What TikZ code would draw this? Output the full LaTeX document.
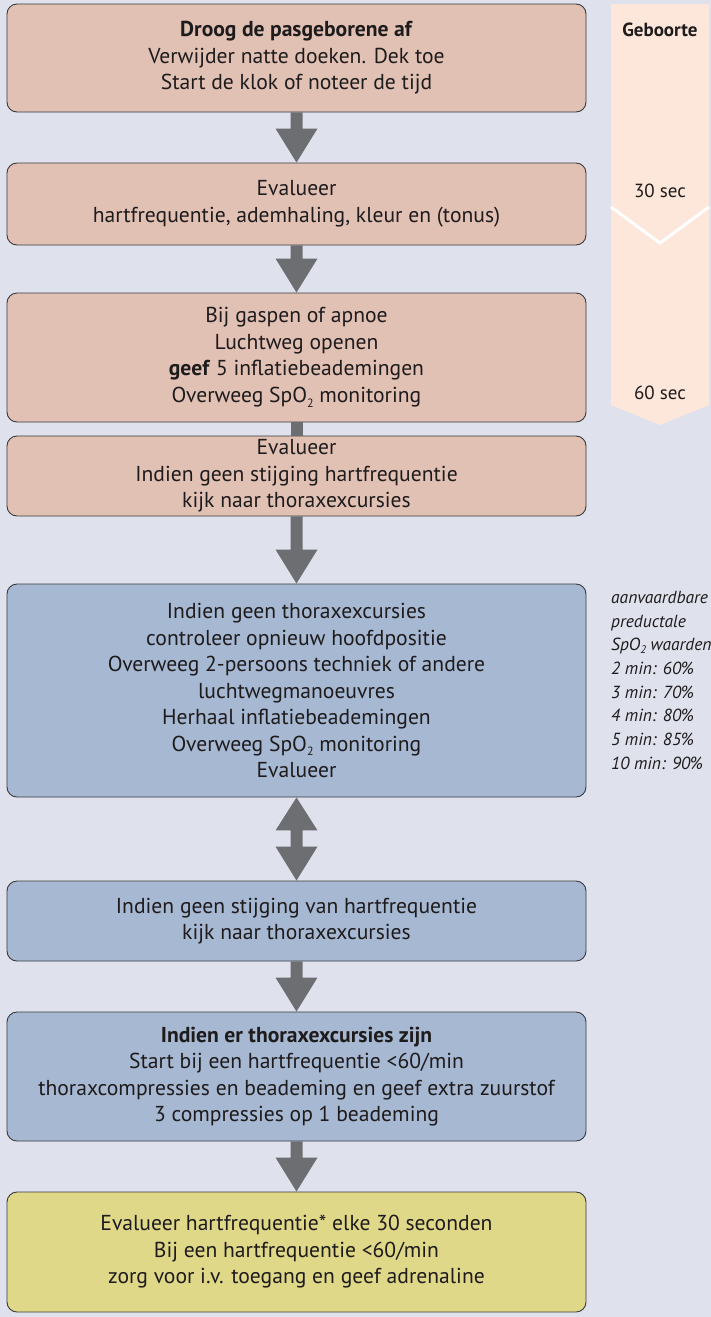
\documentclass[tikz,border=0pt]{standalone}
\usepackage{fontspec}
\setmainfont{PT Sans}
\usetikzlibrary{calc}
\definecolor{bg}{HTML}{DFE1ED}
\definecolor{pinkbox}{HTML}{E2C1B5}
\definecolor{bluebox}{HTML}{A7B8D2}
\definecolor{yellowbox}{HTML}{E0D889}
\definecolor{peach}{HTML}{FDE7DA}
\definecolor{arrowgray}{HTML}{6D6E71}
\definecolor{edgegray}{HTML}{3A3A3C}
\definecolor{ink}{HTML}{1E1B1C}
\newcommand\subtwo{\raisebox{-0.45ex}{\fontsize{12}{12}\selectfont 2}}
\newcommand\flowarrow[2]{%
  \fill[arrowgray] let \p1=(#1.south), \p2=(#2.north) in
    (\x1-6pt,\y1) -- (\x1+6pt,\y1) -- (\x1+6pt,\y2+34pt) -- (\x1+21pt,\y2+34pt)
    -- (\x2,\y2) -- (\x1-21pt,\y2+34pt) -- (\x1-6pt,\y2+34pt) -- cycle;}
\begin{document}
\begin{tikzpicture}[x=1pt,y=-1pt,
  box/.style={draw=edgegray, line width=0.9pt, rounded corners=10pt,
    minimum width=579pt, inner sep=0pt, align=center, text=ink,
    font=\fontsize{21.6}{26.5}\selectfont},
  pinkstep/.style={box, fill=pinkbox},
  bluestep/.style={box, fill=bluebox},
  yellowstep/.style={box, fill=yellowbox},
  timetext/.style={text=ink, font=\fontsize{19}{22}\selectfont, inner sep=0pt},
  sidetext/.style={text=ink, font=\itshape\fontsize{17.5}{23.7}\selectfont, align=left, inner sep=0pt, anchor=north west}
]
\useasboundingbox (0,0) rectangle (711,1317);
\fill[bg] (0,0) rectangle (711,1317);

% timeline
\fill[peach] (611,4) -- (709,4) -- (709,405) -- (660,425) -- (611,405) -- cycle;
\draw[white, line width=3pt] (611,207) -- (660,243) -- (709,207);
\node[timetext] (geb) at (660,30) {\textbf{Geboorte}};
\node[timetext] (s30) at (660,191) {30 sec};
\node[timetext] (s60) at (660,393) {60 sec};

% boxes
\node[pinkstep, minimum height=108pt] (b1) at (296.5,58)
  {\textbf{Droog de pasgeborene af}\\Verwijder natte doeken. Dek toe\\Start de klok of noteer de tijd};
\node[pinkstep, minimum height=82pt] (b2) at (296.5,204)
  {Evalueer\\hartfrequentie, ademhaling, kleur en (tonus)};
\node[pinkstep, minimum height=129pt] (b3) at (296.5,357.5)
  {Bij gaspen of apnoe\\Luchtweg openen\\\textbf{geef} 5 inflatiebeademingen\\Overweeg SpO\subtwo\ monitoring};
\node[pinkstep, minimum height=80pt] (b4) at (296.5,476)
  {Evalueer\\Indien geen stijging hartfrequentie\\kijk naar thoraxexcursies};
\node[bluestep, minimum height=213pt] (b5) at (296.5,690.5)
  {Indien geen thoraxexcursies\\controleer opnieuw hoofdpositie\\Overweeg 2-persoons techniek of andere\\luchtwegmanoeuvres\\Herhaal inflatiebeademingen\\Overweeg SpO\subtwo\ monitoring\\Evalueer};
\node[bluestep, minimum height=80pt] (b6) at (296.5,921)
  {Indien geen stijging van hartfrequentie\\kijk naar thoraxexcursies};
\node[bluestep, minimum height=129pt] (b7) at (296.5,1076.5)
  {\textbf{Indien er thoraxexcursies zijn}\\Start bij een hartfrequentie <60/min\\thoraxcompressies en beademing en geef extra zuurstof\\3 compressies op 1 beademing};
\node[yellowstep, minimum height=120pt] (b8) at (296.5,1252)
  {Evalueer hartfrequentie* elke 30 seconden\\Bij een hartfrequentie <60/min\\zorg voor i.v. toegang en geef adrenaline};

% side note
\node[sidetext] (note) at (611,591)
  {aanvaardbare\\preductale\\SpO{\fontsize{11}{11}\selectfont\raisebox{-0.45ex}{2}} waarden\\2 min: 60\%\\3 min: 70\%\\4 min: 80\%\\5 min: 85\%\\10 min: 90\%};

% arrows
\flowarrow{b1}{b2}
\flowarrow{b2}{b3}
\fill[arrowgray] let \p1=(b3.south), \p2=(b4.north) in
  (\x1-6pt,\y1) rectangle (\x2+6pt,\y2);
\flowarrow{b4}{b5}
\fill[arrowgray] let \p1=(b5.south), \p2=(b6.north) in
  (\x1,\y1) -- (\x1+21pt,\y1-33pt) -- (\x1+6pt,\y1-33pt) -- (\x1+6pt,\y2+34pt)
  -- (\x1+21pt,\y2+34pt) -- (\x2,\y2) -- (\x1-21pt,\y2+34pt) -- (\x1-6pt,\y2+34pt)
  -- (\x1-6pt,\y1-33pt) -- (\x1-21pt,\y1-33pt) -- cycle;
\flowarrow{b6}{b7}
\flowarrow{b7}{b8}
\end{tikzpicture}
\end{document}
